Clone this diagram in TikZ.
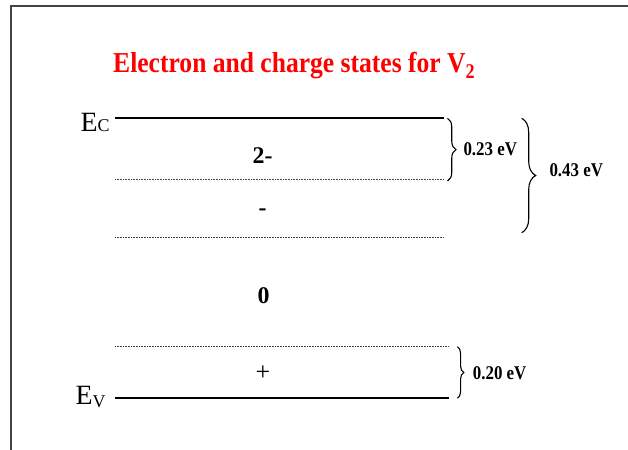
\documentclass[tikz,border=0pt]{standalone}
\usepackage{fontspec}
\setmainfont{Liberation Serif}
\newfontfamily\narrowserif[FakeStretch=0.87]{Liberation Serif}
\newfontfamily\titleserif[FakeStretch=0.885]{Liberation Serif}
\usetikzlibrary{decorations.pathreplacing}
\definecolor{framegray}{HTML}{444444}
\begin{document}
\begin{tikzpicture}[x=1bp,y=-1bp,
  framestyle/.style={draw=framegray, line width=2bp},
  solidlevel/.style={draw=black, line width=2bp},
  dotlevel/.style={draw=black!75, line width=1bp, dash pattern=on 1bp off 0.6bp},
  bracestyle/.style={draw=black, line width=1.1bp, decorate},
  titletext/.style={inner sep=0, anchor=base west, text=red, font=\titleserif\bfseries\fontsize{29}{29}\selectfont},
  bandlabel/.style={inner sep=0, anchor=base west, font=\fontsize{28}{28}\selectfont},
  statelabel/.style={inner sep=0, anchor=base, font=\bfseries\fontsize{24}{24}\selectfont},
  evlabel/.style={inner sep=0, anchor=base west, font=\narrowserif\bfseries\fontsize{19.5}{19.5}\selectfont}
]
\useasboundingbox (0,0) rectangle (628,450);
% frame
\coordinate (f1) at (11,450);
\coordinate (f2) at (11,6.5);
\coordinate (f3) at (628,6.5);
\draw[framestyle] (f1) -- (f2) -- (f3);
% title
\node[titletext] (title) at (113,73) {Electron and charge states for V\raisebox{-6bp}{\fontsize{21}{21}\selectfont\narrowserif\bfseries 2}};
% levels
\coordinate (ecL) at (115,118.3);  \coordinate (ecR) at (444,118.3);
\coordinate (d1L) at (115,180);    \coordinate (d1R) at (444,180);
\coordinate (d2L) at (115,237.3);  \coordinate (d2R) at (444,237.3);
\coordinate (d3L) at (115,346);    \coordinate (d3R) at (448,346);
\coordinate (evL) at (115,398.3);  \coordinate (evR) at (449,398.3);
\draw[solidlevel] (ecL) -- (ecR);
\draw[dotlevel] (d1L) -- (d1R);
\draw[dotlevel] (d2L) -- (d2R);
\draw[dotlevel] (d3L) -- (d3R);
\draw[solidlevel] (evL) -- (evR);
% band edge labels
\node[bandlabel] (EC) at (80.5,131.7) {E{\fontsize{18}{18}\selectfont C}};
\node[bandlabel] (EV) at (75.5,404) {E\raisebox{-3bp}{\fontsize{18}{18}\selectfont V}};
% charge states
\node[statelabel] (s2m) at (262.5,163.3) {2-};
\node[statelabel] (s1m) at (262.7,215.3) {-};
\node[statelabel] (s0) at (263.7,303.3) {0};
\node[statelabel, font=\fontsize{26}{26}\selectfont] (s1p) at (263,380) {+};
% braces
\coordinate (b1t) at (447.5,118.3); \coordinate (b1b) at (447.5,181);
\coordinate (b2t) at (521.7,118.3); \coordinate (b2b) at (521.7,232.7);
\coordinate (b3t) at (457.3,346.7); \coordinate (b3b) at (457.3,398.3);
\draw[bracestyle, decoration={brace, amplitude=8.5bp}] (b1t) -- (b1b);
\draw[bracestyle, decoration={brace, amplitude=14bp}] (b2t) -- (b2b);
\draw[bracestyle, decoration={brace, amplitude=6.5bp}] (b3t) -- (b3b);
% energy labels
\node[evlabel] (e023) at (463.3,156) {0.23 eV};
\node[evlabel] (e043) at (549.3,176.7) {0.43 eV};
\node[evlabel] (e020) at (472.7,379.3) {0.20 eV};
\end{tikzpicture}
\end{document}
